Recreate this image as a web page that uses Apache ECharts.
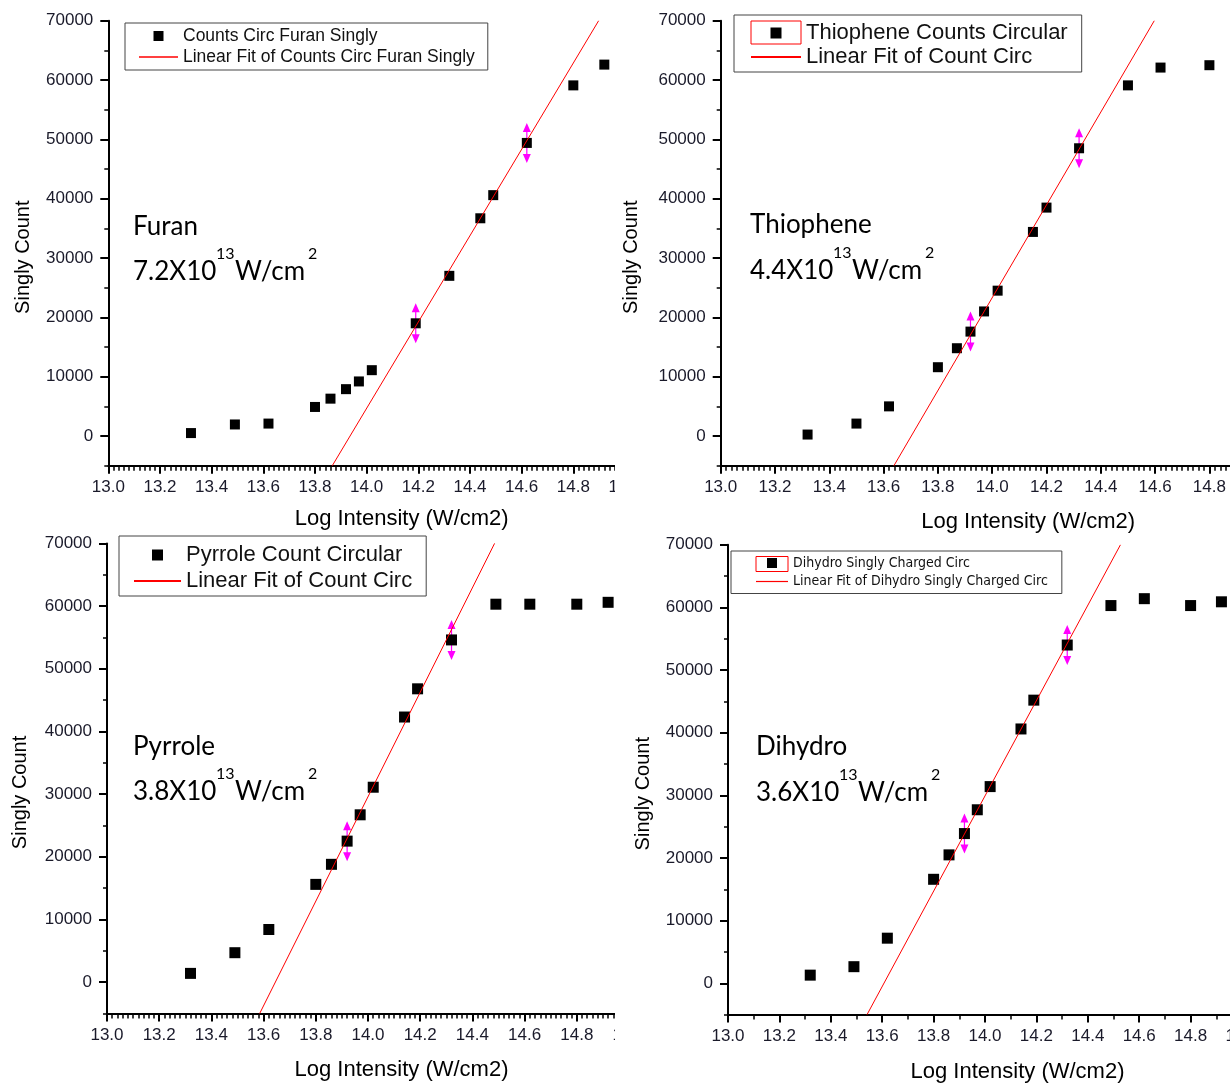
<!DOCTYPE html>
<html lang="en">
<head>
  <meta charset="UTF-8">
  <title>Singly Count vs Log Intensity</title>
  <style>
    *{
      margin: 0;
      padding: 0;
    }
    body{
      position: relative;
      width: 1230px;
      height: 1083px;
      background: #ffffff;
      overflow: hidden;
    }
    .panel{
      position: absolute;
      overflow: hidden;
    }
    .panel .chart{
      width: 720px;
      height: 100%;
    }
  </style>
</head>
<body>
<div class="panel" style="left:0;top:0;width:615px;height:536px"><div class="chart" id="chart-furan"></div></div>
<div class="panel" style="left:615px;top:0;width:615px;height:536px"><div class="chart" id="chart-thio"></div></div>
<div class="panel" style="left:0;top:530px;width:615px;height:553px"><div class="chart" id="chart-pyr"></div></div>
<div class="panel" style="left:615px;top:530px;width:615px;height:553px"><div class="chart" id="chart-dih"></div></div>

<script src="https://cdn.jsdelivr.net/npm/echarts@6.0.0/dist/echarts.min.js"></script>
<script>
  // ---- data ----
  var yTickValues = [0, 10000, 20000, 30000, 40000, 50000, 60000, 70000];

  // Furan
  var furanX = [13.32, 13.49, 13.62, 13.80, 13.86, 13.92, 13.97, 14.02, 14.19, 14.32, 14.44, 14.49, 14.62, 14.80, 14.92];
  var furanY = [500, 1950, 2100, 4900, 6300, 7900, 9200, 11100, 19000, 27000, 36700, 40600, 49400, 59100, 62600];
  var furanFitX = [13.867, 14.898];
  var furanFitY = [-5000, 70000];
  var furanMarkX = [14.19, 14.62];
  var furanMarkY = [19000, 49400];

  // Thiophene
  var thioX = [13.32, 13.50, 13.62, 13.80, 13.87, 13.92, 13.97, 14.02, 14.15, 14.20, 14.32, 14.50, 14.62, 14.80];
  var thioY = [250, 2100, 5000, 11600, 14800, 17600, 21000, 24500, 34400, 38500, 48500, 59100, 62100, 62500];
  var thioFitX = [13.638, 14.597];
  var thioFitY = [-5000, 70000];
  var thioMarkX = [13.92, 14.32];
  var thioMarkY = [17600, 48500];

  // Pyrrole
  var pyrX = [13.32, 13.49, 13.62, 13.80, 13.86, 13.92, 13.97, 14.02, 14.14, 14.19, 14.32, 14.49, 14.62, 14.80, 14.92];
  var pyrY = [1400, 4700, 8400, 15600, 18800, 22500, 26700, 31100, 42300, 46800, 54600, 60300, 60300, 60300, 60600];
  var pyrFitX = [13.585, 14.485];
  var pyrFitY = [-5000, 70000];
  var pyrMarkX = [13.92, 14.32];
  var pyrMarkY = [22500, 54600];

  // Dihydro
  var dihX = [13.32, 13.49, 13.62, 13.80, 13.86, 13.92, 13.97, 14.02, 14.14, 14.19, 14.32, 14.49, 14.62, 14.80, 14.92];
  var dihY = [1300, 2650, 7200, 16600, 20500, 23900, 27700, 31400, 40600, 45200, 54000, 60300, 61400, 60300, 60900];
  var dihFitX = [13.541, 14.527];
  var dihFitY = [-5000, 70000];
  var dihMarkX = [13.92, 14.32];
  var dihMarkY = [23900, 54000];

  var FONT = "'Liberation Sans', Arial, sans-serif";
  var ANNO_FONT = "Lato, 'Noto Sans', sans-serif";
  // double headed arrow used for the fit range markers
  var ARROW = 'path://M4,0 L8,9 L4.6,9 L4.6,31 L8,31 L4,40 L0,31 L3.4,31 L3.4,9 L0,9 Z';
  // legend icons: a small square and a thin bar (paths keep their aspect)
  var SQUARE_ICON = 'path://M0,0 L10,0 L10,10 L0,10 Z';
  var LINE_ICON = 'path://M0,0 L40,0 L40,1.5 L0,1.5 Z';

  function zip(xs, ys) {
    return xs.map(function (x, i) { return [x, ys[i]]; });
  }

  function annoText(text, x, y, size) {
    return {
      type: 'text',
      x: x,
      y: y,
      style: {
        text: text,
        fontFamily: ANNO_FONT,
        fontSize: size,
        fill: '#000',
        verticalAlign: 'middle'
      }
    };
  }

  function makeOption(p) {
    var a = p.anno;
    var graphic = [
      annoText(p.name, a.x, a.y1, 26),
      annoText(p.coeff, a.x, a.y2, 26),
      annoText('13', a.x + 83, a.y2 - 18, 16),
      annoText('W/cm', a.x + 102, a.y2, 26),
      annoText('2', a.x + 175, a.y2 - 18, 16)
    ];
    if (p.redBox) {
      graphic.push({
        type: 'rect',
        shape: { x: p.redBox[0], y: p.redBox[1], width: p.redBox[2], height: p.redBox[3] },
        style: { fill: 'none', stroke: '#ff0000', lineWidth: 1 },
        z: 100
      });
    }
    return {
      animation: false,
      textStyle: { fontFamily: FONT },
      grid: {
        left: p.grid[0], top: p.grid[1], width: p.grid[2], height: p.grid[3],
        outerBoundsMode: 'none'
      },
      legend: {
        orient: 'vertical',
        left: p.legend.left,
        top: p.legend.top,
        padding: p.legend.padding,
        itemWidth: p.legend.itemWidth,
        itemHeight: p.legend.itemHeight,
        itemGap: p.legend.itemGap,
        symbolKeepAspect: true,
        borderColor: '#444',
        borderWidth: 1,
        textStyle: {
          fontFamily: p.legend.font || FONT,
          fontSize: p.legend.fontSize,
          lineHeight: p.legend.lineHeight,
          color: '#111'
        },
        data: [
          { name: p.dataName, icon: SQUARE_ICON, itemStyle: { color: '#000', opacity: 1 } },
          { name: p.fitName, icon: LINE_ICON, itemStyle: { color: '#ff0000', opacity: 1 } }
        ]
      },
      xAxis: {
        type: 'value',
        min: 13,
        max: 15,
        interval: 0.2,
        axisLine: { show: true, onZero: false, lineStyle: { color: '#000', width: 2 } },
        axisTick: { show: true, length: 8, lineStyle: { color: '#000', width: 2 } },
        minorTick: { show: true, splitNumber: p.minorSplit, length: 5, lineStyle: { color: '#000', width: 1.5 } },
        axisLabel: {
          fontSize: 17,
          color: '#1a1a2a',
          margin: 13,
          formatter: function (v) { return v.toFixed(1); }
        },
        splitLine: { show: false },
        name: 'Log Intensity (W/cm2)',
        nameLocation: 'middle',
        nameGap: p.xNameGap,
        nameTextStyle: { fontSize: 22, color: '#000', padding: [0, 0, 0, p.xNameShift] }
      },
      yAxis: [{
        type: 'value',
        min: -5000,
        max: 70000,
        position: 'left',
        axisLine: { show: true, onZero: false, lineStyle: { color: '#000', width: 2 } },
        axisTick: { show: true, length: 8, customValues: yTickValues, lineStyle: { color: '#000', width: 2 } },
        axisLabel: {
          customValues: yTickValues,
          fontSize: 17,
          color: '#1a1a2a',
          margin: 15,
          formatter: function (v) { return String(v); }
        },
        splitLine: { show: false },
        name: 'Singly Count',
        nameLocation: 'middle',
        nameGap: p.yNameGap,
        nameTextStyle: { fontSize: 20, color: '#000', padding: [0, 28, 0, 0] }
      }, {
        // minor ticks every 5000
        type: 'value',
        min: -5000,
        max: 70000,
        interval: 5000,
        position: 'left',
        axisLine: { show: false },
        axisTick: { show: true, length: 4, lineStyle: { color: '#000', width: 1.5 } },
        axisLabel: { show: false },
        splitLine: { show: false }
      }],
      series: [{
        name: 'fit range',
        type: 'scatter',
        symbol: ARROW,
        symbolSize: [8, 40],
        itemStyle: { color: '#ff00ff', opacity: 1 },
        data: zip(p.markX, p.markY),
        z: 1,
        silent: true
      }, {
        name: p.dataName,
        type: 'scatter',
        symbol: 'rect',
        symbolSize: p.symbolSize,
        itemStyle: { color: '#000', opacity: 1 },
        data: zip(p.x, p.y),
        z: 2
      }, {
        name: p.fitName,
        type: 'line',
        symbol: 'none',
        itemStyle: { color: '#ff0000' },
        lineStyle: { color: '#ff0000', width: 1 },
        data: zip(p.fitX, p.fitY),
        z: 3
      }],
      graphic: graphic
    };
  }

  var panels = [{
    el: 'chart-furan',
    x: furanX, y: furanY, fitX: furanFitX, fitY: furanFitY, markX: furanMarkX, markY: furanMarkY,
    dataName: 'Counts Circ Furan Singly', fitName: 'Linear Fit of Counts Circ Furan Singly',
    name: 'Furan', coeff: '7.2X10',
    grid: [108.3, 20.7, 516.7, 445], minorSplit: 10, symbolSize: 10,
    xNameGap: 42, xNameShift: 70, yNameGap: 75,
    legend: { left: 125, top: 23, padding: [4, 13, 4, 14], itemWidth: 39, itemHeight: 10, itemGap: 3, fontSize: 17.5, lineHeight: 18 },
    anno: { x: 133, y1: 227, y2: 272 }
  }, {
    el: 'chart-thio',
    x: thioX, y: thioY, fitX: thioFitX, fitY: thioFitY, markX: thioMarkX, markY: thioMarkY,
    dataName: 'Thiophene Counts Circular', fitName: 'Linear Fit of Count Circ',
    name: 'Thiophene', coeff: '4.4X10',
    grid: [105.7, 20.7, 543, 445], minorSplit: 10, symbolSize: 10,
    xNameGap: 45, xNameShift: 72, yNameGap: 79,
    legend: { left: 119, top: 15, padding: [7, 14, 4, 17], itemWidth: 50, itemHeight: 11, itemGap: 2, fontSize: 22, lineHeight: 22 },
    redBox: [136, 21, 50, 23],
    anno: { x: 135, y1: 225, y2: 271 }
  }, {
    el: 'chart-pyr',
    x: pyrX, y: pyrY, fitX: pyrFitX, fitY: pyrFitY, markX: pyrMarkX, markY: pyrMarkY,
    dataName: 'Pyrrole Count Circular', fitName: 'Linear Fit of Count Circ',
    name: 'Pyrrole', coeff: '3.8X10',
    grid: [107, 13.4, 522, 470.1], minorSplit: 10, symbolSize: 11,
    xNameGap: 45, xNameShift: 67, yNameGap: 77,
    legend: { left: 119, top: 6, padding: [8, 14, 4, 15], itemWidth: 47, itemHeight: 11, itemGap: 4, fontSize: 22, lineHeight: 22 },
    anno: { x: 133, y1: 217, y2: 262 }
  }, {
    el: 'chart-dih',
    x: dihX, y: dihY, fitX: dihFitX, fitY: dihFitY, markX: dihMarkX, markY: dihMarkY,
    dataName: 'Dihydro Singly Charged Circ', fitName: 'Linear Fit of Dihydro Singly Charged Circ',
    name: 'Dihydro', coeff: '3.6X10',
    grid: [113, 14.8, 514, 469.8], minorSplit: 2, symbolSize: 11,
    xNameGap: 46, xNameShift: 65, yNameGap: 75,
    legend: { left: 116, top: 21, padding: [4, 14, 4, 25], itemWidth: 32, itemHeight: 10, itemGap: 2.5, fontSize: 14, lineHeight: 16,
              font: "'Liberation Sans Narrow', 'DejaVu Sans Condensed', sans-serif" },
    redBox: [141, 26.5, 32, 15],
    anno: { x: 141, y1: 217, y2: 263 }
  }];

  panels.forEach(function (p) {
    var chart = echarts.init(document.getElementById(p.el), null, { renderer: 'canvas' });
    chart.setOption(makeOption(p));
  });
</script>
</body>
</html>
